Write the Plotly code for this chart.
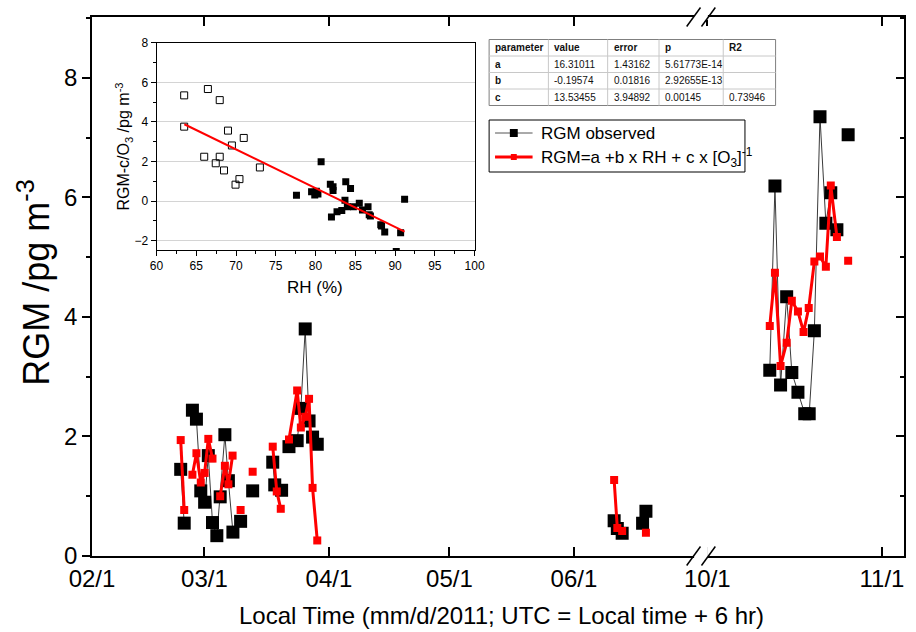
import plotly.graph_objects as go

W, H = 916, 632
L, R, T, B = 92, 2, 17, 76
PW, PH = W - L - R, H - T - B


def px(x):
    return (x - L) / PW


def py(y):
    return (H - B - y) / PH


FONT = "Arial, Liberation Sans, sans-serif"

# ---------------- main series (segment 1: Feb-Jul) ----------------
obs1_dates = ["2011-02-23 02:00", "2011-02-23 23:00", None,
              "2011-02-26 00:00", "2011-02-27 00:00", "2011-02-28 02:00", "2011-03-01 01:00",
              "2011-03-01 23:00", "2011-03-03 00:00", "2011-03-04 02:00", "2011-03-04 22:00",
              "2011-03-06 02:00", "2011-03-06 23:00", "2011-03-08 02:00", None,
              "2011-03-10 00:00", None,
              "2011-03-13 00:00", None,
              "2011-03-18 00:00", "2011-03-18 12:00", "2011-03-20 05:00", None,
              "2011-03-22 01:00", "2011-03-24 02:00", "2011-03-25 00:00", "2011-03-26 02:00",
              "2011-03-27 01:00", "2011-03-27 22:00", "2011-03-29 02:00", None,
              "2011-06-11 00:00", "2011-06-11 19:00", "2011-06-13 00:00", None,
              "2011-06-18 02:00", "2011-06-18 22:00"]
obs1_vals = [1.45, 0.55, None,
             2.44, 2.29, 1.09, 0.90,
             1.68, 0.56, 0.34, 0.99,
             2.03, 1.26, 0.40, None,
             0.58, None,
             1.09, None,
             1.57, 1.19, 1.10, None,
             1.83, 1.93, 2.47, 3.80,
             2.26, 1.99, 1.87, None,
             0.59, 0.46, 0.38, None,
             0.55, 0.75]

fit1_dates = ["2011-02-23 02:00", "2011-02-23 23:00", None,
              "2011-02-26 00:00", "2011-02-27 00:00", "2011-02-28 02:00", "2011-03-01 01:00",
              "2011-03-01 23:00", "2011-03-03 00:00", None,
              "2011-03-04 22:00", "2011-03-06 02:00", "2011-03-06 23:00", "2011-03-08 00:00", None,
              "2011-03-10 00:00", None,
              "2011-03-13 00:00", None,
              "2011-03-18 00:00", "2011-03-19 00:00", "2011-03-20 00:00", None,
              "2011-03-22 01:00", "2011-03-24 02:00", "2011-03-25 00:00", "2011-03-26 02:00",
              "2011-03-27 01:00", "2011-03-27 22:00", "2011-03-29 02:00", None,
              "2011-06-11 00:00", "2011-06-11 19:00", "2011-06-13 00:00", None,
              "2011-06-18 22:00"]
fit1_vals = [1.94, 0.77, None,
             1.36, 1.72, 1.23, 1.39,
             1.96, 1.63, None,
             1.00, 1.51, 1.20, 1.68, None,
             0.77, None,
             1.41, None,
             1.83, 1.08, 0.79, None,
             1.95, 2.77, 2.15, 2.33,
             2.63, 1.14, 0.26, None,
             1.27, 0.47, 0.42, None,
             0.39]

# ---------------- main series (segment 2: Oct-Nov) ----------------
obs2_dates = ["2011-10-12 02:00", "2011-10-13 00:00", "2011-10-14 00:00", "2011-10-15 02:00",
              "2011-10-16 00:00", "2011-10-17 02:00", "2011-10-18 07:00", "2011-10-19 02:00",
              "2011-10-20 00:00", "2011-10-21 00:00", "2011-10-22 01:00", "2011-10-22 22:00",
              "2011-10-24 00:00", None, "2011-10-26 00:00"]
obs2_vals = [3.11, 6.19, 2.86, 4.34,
             3.07, 2.74, 2.38, 2.38,
             3.77, 7.35, 5.57, 6.08,
             5.46, None, 7.05]

fit2_dates = ["2011-10-12 02:00", "2011-10-13 00:00", "2011-10-14 00:00", "2011-10-15 02:00",
              "2011-10-16 00:00", "2011-10-17 02:00", "2011-10-18 02:00", "2011-10-19 00:00",
              "2011-10-20 00:00", "2011-10-21 00:00", "2011-10-22 01:00", "2011-10-22 22:00",
              "2011-10-24 00:00", None, "2011-10-26 00:00"]
fit2_vals = [3.85, 4.74, 3.18, 3.57,
             4.27, 4.09, 3.75, 4.15,
             4.93, 5.01, 4.84, 6.20,
             5.34, None, 4.94]

x1_tickvals = ["2011-02-01", "2011-03-01", "2011-04-01", "2011-05-01", "2011-06-01"]
x1_ticktext = ["02/1", "03/1", "04/1", "05/1", "06/1"]
x2_tickvals = ["2011-10-01", "2011-11-01"]
x2_ticktext = ["10/1", "11/1"]

# ---------------- inset data ----------------
rh_open = [63.48, 63.48, 66.46, 67.95, 68.99, 70.97, 69.48, 66.0, 67.95, 67.45, 68.49, 73.0, 70.43, 69.94]
res_open = [5.34, 3.76, 5.66, 5.10, 3.56, 3.19, 2.81, 2.24, 2.24, 1.91, 1.55, 1.70, 1.11, 0.83]
rh_fill = [77.6, 80.7, 79.5, 79.9, 80.3, 80.1, 81.86, 82.2, 82.2, 82.0, 82.7, 83.3, 83.8, 84.4,
           83.7, 84.0, 84.76, 85.5, 85.9, 86.6, 86.75, 86.9, 88.2, 88.3, 88.7, 90.7, 91.2, 90.15]
res_fill = [0.29, 1.99, 0.47, 0.31, 0.36, 0.50, 0.85, 0.73, 0.53, -0.80, -0.54, -0.48, 0.98, 0.64,
            0.04, -0.28, -0.28, -0.11, -0.45, -0.28, -0.69, -0.75, -1.19, -1.26, -1.56, -1.60, 0.09, -2.55]

# ---------------- fit table ----------------
tbl_header = ["parameter", "value", "error", "p", "R2"]
tbl_param = ["a", "b", "c"]
tbl_value = ["16.31011", "-0.19574", "13.53455"]
tbl_error = ["1.43162", "0.01816", "3.94892"]
tbl_p = ["5.61773E-14", "2.92655E-13", "0.00145"]
tbl_r2 = ["", "", "0.73946"]
fit_a, fit_b = 16.31011, -0.19574
rh_line = [63.5, 91.2]
res_line = [fit_a + fit_b * v for v in rh_line]

legend_labels = ["RGM observed", "RGM=a +b x RH + c x [O<sub>3</sub>]<sup>-1</sup>"]

fig = go.Figure()

BLACK_LINE = dict(color="#3a3a3a", width=1)
fig.add_trace(go.Scatter(x=obs1_dates, y=obs1_vals, mode="lines+markers", name=legend_labels[0],
                         showlegend=False, line=BLACK_LINE,
                         marker=dict(symbol="square", size=13, color="black"),
                         xaxis="x", yaxis="y"))
fig.add_trace(go.Scatter(x=obs2_dates, y=obs2_vals, mode="lines+markers", name=legend_labels[0],
                         showlegend=False, line=BLACK_LINE,
                         marker=dict(symbol="square", size=13, color="black"),
                         xaxis="x2", yaxis="y2"))
RED_LINE = dict(color="#ff0000", width=3)
fig.add_trace(go.Scatter(x=fit1_dates, y=fit1_vals, mode="lines+markers", name=legend_labels[1],
                         showlegend=False, line=RED_LINE,
                         marker=dict(symbol="square", size=8, color="#ff0000"),
                         xaxis="x", yaxis="y"))
fig.add_trace(go.Scatter(x=fit2_dates, y=fit2_vals, mode="lines+markers", name=legend_labels[1],
                         showlegend=False, line=RED_LINE,
                         marker=dict(symbol="square", size=8, color="#ff0000"),
                         xaxis="x2", yaxis="y2"))

# inset traces
fig.add_trace(go.Scatter(x=rh_open, y=res_open, mode="markers", showlegend=False,
                         marker=dict(symbol="square-open", size=7, color="black", line=dict(width=1)),
                         xaxis="x3", yaxis="y3"))
fig.add_trace(go.Scatter(x=rh_fill, y=res_fill, mode="markers", showlegend=False,
                         marker=dict(symbol="square", size=7, color="black"),
                         xaxis="x3", yaxis="y3"))
fig.add_trace(go.Scatter(x=rh_line, y=res_line, mode="lines", showlegend=False,
                         line=dict(color="#ff0000", width=2), xaxis="x3", yaxis="y3"))

BREAK = px(709)
tickfont = dict(family=FONT, size=24, color="black")
common_x = dict(showline=True, linecolor="black", linewidth=1.5, mirror="ticks", ticks="inside",
                ticklen=9, tickwidth=1.5, tickcolor="black", showgrid=False, zeroline=False,
                tickfont=tickfont, type="date")

fig.update_layout(
    width=W, height=H, margin=dict(l=L, r=R, t=T, b=B),
    paper_bgcolor="white", plot_bgcolor="white",
    font=dict(family=FONT, color="black"),
    showlegend=False,
    xaxis=dict(domain=[0, BREAK], anchor="y", range=["2011-02-01", "2011-07-02 18:00"],
               tickvals=x1_tickvals, ticktext=x1_ticktext, **common_x),
    xaxis2=dict(domain=[BREAK, 1], anchor="y2", range=["2011-09-29 23:00", "2011-11-04 22:00"],
                tickvals=x2_tickvals, ticktext=x2_ticktext, **common_x),
    yaxis=dict(domain=[0, 1], anchor="x", range=[0, 9.02], side="left", showline=True,
               linecolor="black", linewidth=1.5, ticks="outside", ticklen=8, tickwidth=1.5,
               tickcolor="black", dtick=2, tick0=0, showgrid=False, zeroline=False,
               tickfont=tickfont,
               minor=dict(ticks="outside", ticklen=4, dtick=1, tick0=0, tickcolor="black", tickwidth=1.5)),
    yaxis2=dict(domain=[0, 1], anchor="x2", range=[0, 9.02], side="right", showline=True,
                linecolor="black", linewidth=1.5, ticks="inside", ticklen=8, tickwidth=1.5,
                tickcolor="black", dtick=2, tick0=0, showgrid=False, zeroline=False,
                showticklabels=False,
                minor=dict(ticks="inside", ticklen=4, dtick=1, tick0=0, tickcolor="black", tickwidth=1.5)),
    xaxis3=dict(domain=[px(157.3), px(479.3)], anchor="y3", range=[60, 100], dtick=5, tick0=60,
                showline=True, mirror=True, linecolor="black", linewidth=1, ticks="outside",
                ticklen=5, tickcolor="black", showgrid=False, zeroline=False,
                tickfont=dict(family=FONT, size=12, color="black"),
                minor=dict(ticks="outside", ticklen=3, dtick=2.5, tick0=60, tickcolor="black")),
    yaxis3=dict(domain=[py(250), py(42.7)], anchor="x3", range=[-2.47, 8], dtick=2, tick0=0,
                showline=True, mirror=True, linecolor="black", linewidth=1, ticks="outside",
                ticklen=5, tickcolor="black", showgrid=True, gridcolor="#d4d4d4", gridwidth=1,
                zeroline=False, tickfont=dict(family=FONT, size=12, color="black"),
                minor=dict(ticks="outside", ticklen=3, dtick=1, tick0=0, tickcolor="black")),
)

annotations = [
    dict(text="Local Time (mm/d/2011; UTC = Local time + 6 hr)", x=px(507), y=py(631),
         xref="paper", yref="paper", showarrow=False, xanchor="center", yanchor="bottom",
         font=dict(family=FONT, size=24, color="black")),
    dict(text="RGM /pg m<sup>-3</sup>", x=px(33), y=py(283), xref="paper", yref="paper",
         showarrow=False, textangle=-90, xanchor="center", yanchor="middle",
         font=dict(family=FONT, size=36, color="black")),
    dict(text="RH (%)", x=px(318), y=py(287), xref="paper", yref="paper", showarrow=False,
         xanchor="center", yanchor="middle", font=dict(family=FONT, size=17, color="black")),
    dict(text="RGM-c/O<sub>3</sub> /pg m<sup>-3</sup>", x=px(124), y=py(147), xref="paper",
         yref="paper", showarrow=False, textangle=-90, xanchor="center", yanchor="middle",
         font=dict(family=FONT, size=16, color="black")),
]

shapes = []
# table
col_edges = [494, 554, 614, 666, 731, 784]
row_edges = [39.5, 56, 72.5, 89, 105.5]
shapes.append(dict(type="rect", xref="paper", yref="paper", x0=px(col_edges[0]), x1=px(col_edges[-1]),
                   y0=py(row_edges[-1]), y1=py(row_edges[0]), fillcolor="white",
                   line=dict(color="#7f7f7f", width=1), layer="above"))
for ce in col_edges[1:-1]:
    shapes.append(dict(type="line", xref="paper", yref="paper", x0=px(ce), x1=px(ce),
                       y0=py(row_edges[-1]), y1=py(row_edges[0]), line=dict(color="#c8c8c8", width=1),
                       layer="above"))
for re_ in row_edges[1:-1]:
    shapes.append(dict(type="line", xref="paper", yref="paper", x0=px(col_edges[0]), x1=px(col_edges[-1]),
                       y0=py(re_), y1=py(re_), line=dict(color="#c8c8c8", width=1), layer="above"))

rows = [tbl_header] + [[tbl_param[i], tbl_value[i], tbl_error[i], tbl_p[i], tbl_r2[i]] for i in range(3)]
for ri, row in enumerate(rows):
    yc = (row_edges[ri] + row_edges[ri + 1]) / 2
    for ci, txt in enumerate(row):
        if txt == "":
            continue
        bold = ri == 0 or ci == 0
        annotations.append(dict(text=("<b>%s</b>" % txt) if bold else txt, x=px(col_edges[ci] + 4),
                                y=py(yc), xref="paper", yref="paper", showarrow=False,
                                xanchor="left", yanchor="middle",
                                font=dict(family=FONT, size=10, color="#111111")))

# legend box (drawn by hand to match the original's compact layout)
shapes.append(dict(type="rect", xref="paper", yref="paper", x0=px(494), x1=px(753),
                   y0=py(172), y1=py(120), fillcolor="white", line=dict(color="black", width=1),
                   layer="above"))
leg_rows = [133, 157]
leg_styles = [("#555555", 1, "black", 8), ("#ff0000", 3, "#ff0000", 6)]
for (lc, lw, mc, ms), ly, lab in zip(leg_styles, leg_rows, legend_labels):
    shapes.append(dict(type="line", xref="paper", yref="paper", x0=px(500), x1=px(538),
                       y0=py(ly), y1=py(ly), line=dict(color=lc, width=lw), layer="above"))
    shapes.append(dict(type="rect", xref="paper", yref="paper", x0=px(519 - ms / 2), x1=px(519 + ms / 2),
                       y0=py(ly + ms / 2), y1=py(ly - ms / 2), fillcolor=mc, line=dict(width=0),
                       layer="above"))
    annotations.append(dict(text=lab, x=px(544), y=py(ly), xref="paper", yref="paper",
                            showarrow=False, xanchor="left", yanchor="middle",
                            font=dict(family=FONT, size=17, color="black")))

# axis-break marks
for yax in (17, 556):
    shapes.append(dict(type="rect", xref="paper", yref="paper", x0=px(701.5), x1=px(715.5),
                       y0=py(yax + 3), y1=py(yax - 10), fillcolor="white", line=dict(width=0),
                       layer="above"))
    for xc in (701, 716):
        shapes.append(dict(type="line", xref="paper", yref="paper", x0=px(xc - 7), x1=px(xc + 7),
                           y0=py(yax + 9.5), y1=py(yax - 9.5), line=dict(color="black", width=1.5),
                           layer="above"))

fig.update_layout(annotations=annotations, shapes=shapes)
fig.write_html("out.html", config={"displayModeBar": False},
               post_script="document.body.style.margin='0px';"
                           "document.body.style.overflow='hidden';"
                           "document.documentElement.style.overflow='hidden';")
